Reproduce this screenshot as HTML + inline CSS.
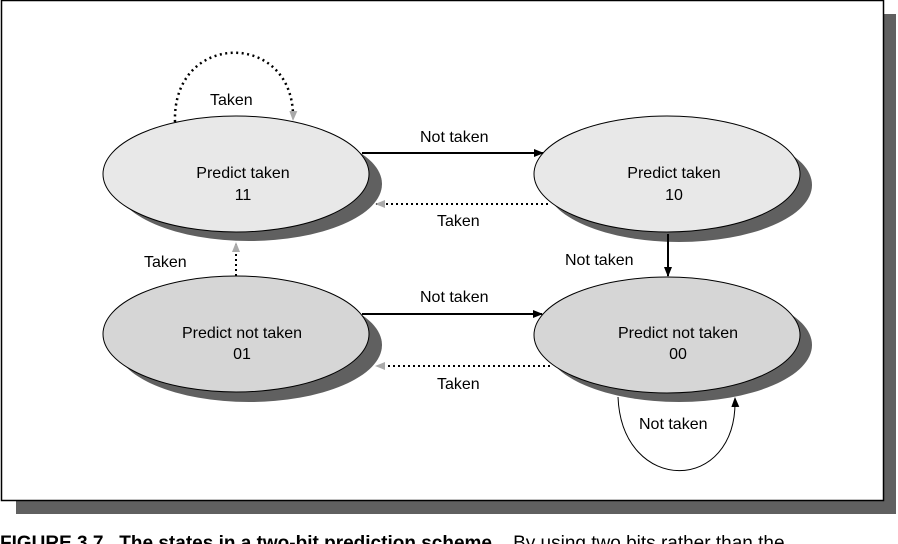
<!DOCTYPE html>
<html><head><meta charset="utf-8"><style>
html,body{margin:0;padding:0;background:#fff;width:898px;height:544px;overflow:hidden;position:relative;font-family:"Liberation Sans",sans-serif}
.cap{position:absolute;left:0;top:533px;font-size:19px;white-space:nowrap;color:#000}
</style></head><body>
<svg width="898" height="544" style="position:absolute;left:0;top:0" font-family="Liberation Sans, sans-serif" font-size="16">
<defs>
<marker id="ab" markerWidth="10" markerHeight="8" refX="9" refY="4" orient="auto" markerUnits="userSpaceOnUse"><path d="M0,0 L10,4 L0,8 Z" fill="#000"/></marker>
<marker id="ag" markerWidth="10" markerHeight="8" refX="9" refY="4" orient="auto" markerUnits="userSpaceOnUse"><path d="M0,0 L10,4 L0,8 Z" fill="#aaa"/></marker>
</defs>
<rect x="16" y="14" width="880" height="500" fill="#606060"/>
<rect x="1.5" y="0.5" width="882" height="500" fill="#fff" stroke="#000" stroke-width="1.5"/>
<!-- shadows -->
<ellipse cx="249" cy="184" rx="133" ry="57" fill="#606060"/>
<ellipse cx="679" cy="185" rx="133" ry="57" fill="#606060"/>
<ellipse cx="249" cy="345" rx="133" ry="57" fill="#606060"/>
<ellipse cx="679" cy="345" rx="133" ry="57" fill="#606060"/>
<!-- nodes -->
<ellipse cx="236" cy="174" rx="133" ry="58" fill="#e8e8e8" stroke="#000"/>
<ellipse cx="667" cy="174" rx="133" ry="58" fill="#e8e8e8" stroke="#000"/>
<ellipse cx="236" cy="334" rx="133" ry="58" fill="#d6d6d6" stroke="#000"/>
<ellipse cx="667" cy="335" rx="133" ry="58" fill="#d6d6d6" stroke="#000"/>
<g text-anchor="middle" fill="#000">
<text x="243" y="178">Predict taken</text><text x="243" y="200">11</text>
<text x="674" y="178">Predict taken</text><text x="674" y="200">10</text>
<text x="242" y="338">Predict not taken</text><text x="242" y="359">01</text>
<text x="678" y="338">Predict not taken</text><text x="678" y="359">00</text>
</g>
<!-- edges -->
<line x1="362" y1="153" x2="543" y2="153" stroke="#000" stroke-width="2" marker-end="url(#ab)"/>
<line x1="548" y1="204" x2="376" y2="204" stroke="#000" stroke-width="2" stroke-dasharray="2,3" marker-end="url(#ag)"/>
<line x1="362" y1="314" x2="542" y2="314" stroke="#000" stroke-width="2" marker-end="url(#ab)"/>
<line x1="550" y1="366" x2="376" y2="366" stroke="#000" stroke-width="2" stroke-dasharray="2,3" marker-end="url(#ag)"/>
<line x1="668" y1="234" x2="668" y2="276" stroke="#000" stroke-width="2" marker-end="url(#ab)"/>
<line x1="236" y1="276" x2="236" y2="243" stroke="#000" stroke-width="2" stroke-dasharray="2,3" marker-end="url(#ag)"/>
<path d="M175,122 C172,30 296,30 293,120" fill="none" stroke="#000" stroke-width="2.5" stroke-dasharray="2,3.5" marker-end="url(#ag)"/>
<path d="M618,397 C622,495 738,495 735,398" fill="none" stroke="#000" stroke-width="1" marker-end="url(#ab)"/>
<g fill="#000">
<text x="210" y="105">Taken</text>
<text x="420" y="142">Not taken</text>
<text x="437" y="226">Taken</text>
<text x="144" y="267">Taken</text>
<text x="565" y="265">Not taken</text>
<text x="420" y="302">Not taken</text>
<text x="437" y="389">Taken</text>
<text x="639" y="429">Not taken</text>
</g>
</svg>
<div class="cap"><b>FIGURE 3.7&nbsp;&nbsp; The states in a two-bit prediction scheme.</b>&nbsp;&nbsp; By using two bits rather than the</div>
</body></html>
